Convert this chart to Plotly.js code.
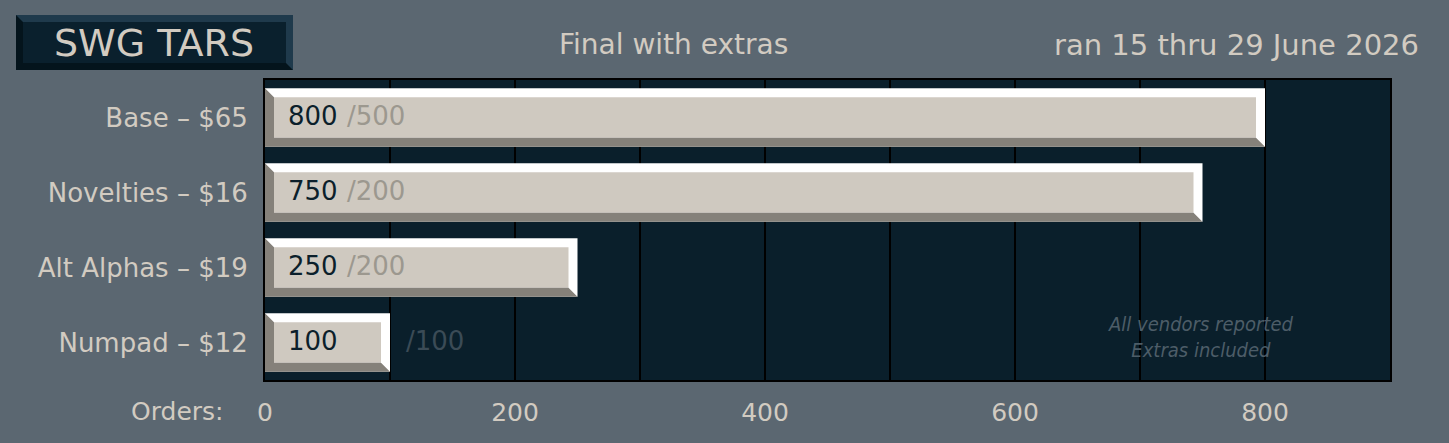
<!DOCTYPE html>
<html>
<head>
<meta charset="utf-8">
<script src="https://cdn.plot.ly/plotly-3.0.1.min.js"></script>
<style>
  html, body { margin: 0; padding: 0; background: #5b6771; }
  #chart { width: 1449px; height: 443px; }
</style>
</head>
<body>
<div id="chart"></div>
<script>
// data
const items = ["Base – $65", "Novelties – $16", "Alt Alphas – $19", "Numpad – $12"];
const orders = [800, 750, 250, 100];
const targets = [500, 200, 200, 100];
const xTicks = [0, 200, 400, 600, 800];

const cream = "#d2cbc1";
const faceCol = "#cfc9c0";
const shadeCol = "#85817a";
const fam = "DejaVu Sans";
const barW = 0.78;
const dx = 7.2;   // bevel in x data units (~9px)
const dy = 0.12;  // bevel in y data units (~9px)

// plot area in px, used to place the header bits in paper coords
const L = 265, R = 1390, T = 80, B = 380;
const px = v => (v - L) / (R - L);
const py = v => (B - v) / (B - T);

const idx = items.map((d, i) => i);

const traces = [
  {
    type: "bar",
    orientation: "h",
    x: orders,
    y: idx,
    width: barW,
    marker: { color: "#ffffff", line: { width: 0 } },
    hoverinfo: "none",
    showlegend: false
  },
  {
    type: "bar",
    orientation: "h",
    x: orders.map(v => v - 2 * dx),
    base: dx,
    y: idx,
    width: barW - 2 * dy,
    marker: { color: faceCol, line: { width: 0 } },
    hoverinfo: "none",
    showlegend: false
  }
];

const shapes = [];
// shaded left + bottom edge of each bar
orders.forEach(function(v, i) {
  const yt = i - barW / 2, yb = i + barW / 2;
  shapes.push({
    type: "path",
    xref: "x", yref: "y",
    path: `M0,${yt} L${dx},${yt + dy} L${dx},${yb - dy} L${v - dx},${yb - dy} L${v},${yb} L0,${yb} Z`,
    fillcolor: shadeCol,
    line: { width: 0 },
    layer: "above"
  });
});

// header box
const bx0 = 16, bx1 = 293, by0 = 15, by1 = 70, bv = 7;
shapes.push({
  type: "rect", xref: "paper", yref: "paper",
  x0: px(bx0), x1: px(bx1), y0: py(by1), y1: py(by0),
  fillcolor: "#1f3a4c", line: { width: 0 }
});
shapes.push({
  type: "path", xref: "paper", yref: "paper",
  path: `M${px(bx0)},${py(by0)} L${px(bx0 + bv)},${py(by0 + bv)} L${px(bx0 + bv)},${py(by1 - bv)} L${px(bx1 - bv)},${py(by1 - bv)} L${px(bx1)},${py(by1)} L${px(bx0)},${py(by1)} Z`,
  fillcolor: "#04141c", line: { width: 0 }
});
shapes.push({
  type: "rect", xref: "paper", yref: "paper",
  x0: px(bx0 + bv), x1: px(bx1 - bv), y0: py(by1 - bv), y1: py(by0 + bv),
  fillcolor: "#0a202d", line: { width: 0 }
});

const annotations = [];
orders.forEach(function(v, i) {
  annotations.push({
    x: 17, y: i - 0.02, xref: "x", yref: "y",
    text: String(v), showarrow: false, xanchor: "left", yanchor: "middle",
    font: { family: fam, size: 26, color: "#0b1f2b" }
  });
  const inside = v > 120;
  annotations.push({
    x: inside ? 64 : v + 11, y: i - 0.02, xref: "x", yref: "y",
    text: "/" + targets[i], showarrow: false, xanchor: "left", yanchor: "middle",
    font: { family: fam, size: 26, color: inside ? "#9c988f" : "#3b4b56" }
  });
});

annotations.push(
  {
    x: px(154), y: py(43), xref: "paper", yref: "paper", xanchor: "center", yanchor: "middle",
    text: "SWG TARS", showarrow: false,
    font: { family: fam, size: 38, color: cream }
  },
  {
    x: px(673), y: py(45), xref: "paper", yref: "paper", xanchor: "center", yanchor: "middle",
    text: "Final with extras", showarrow: false,
    font: { family: fam, size: 28, color: cream }
  },
  {
    x: px(1421), y: py(45), xref: "paper", yref: "paper", xanchor: "right", yanchor: "middle",
    text: "ran 15 thru 29 June 2026", showarrow: false,
    font: { family: fam, size: 29, color: cream }
  },
  {
    x: px(226), y: py(411), xref: "paper", yref: "paper", xanchor: "right", yanchor: "middle",
    text: "Orders:", showarrow: false,
    font: { family: fam, size: 25, color: cream }
  },
  {
    x: px(1200), y: py(337), xref: "paper", yref: "paper", xanchor: "center", yanchor: "middle",
    text: "<i>All vendors reported<br>Extras included</i>", showarrow: false,
    font: { family: "Liberation Sans Narrow, DejaVu Sans Condensed", size: 20, color: "#4d5d68" }
  }
);

const layout = {
  width: 1449,
  height: 443,
  margin: { l: L, r: 1449 - R, t: T, b: 443 - B, pad: 0 },
  paper_bgcolor: "#5b6771",
  plot_bgcolor: "#0a1f2b",
  barmode: "overlay",
  font: { family: fam, color: cream },
  xaxis: {
    range: [0, 900],
    tickvals: xTicks,
    ticktext: xTicks.map(String),
    showgrid: true,
    gridcolor: "#000000",
    gridwidth: 2,
    minor: { dtick: 100, showgrid: true, gridcolor: "#000000", gridwidth: 2 },
    zeroline: false,
    showline: true,
    linecolor: "#000000",
    linewidth: 2,
    mirror: true,
    ticks: "",
    ticklabelstandoff: 9,
    tickfont: { family: fam, size: 25, color: cream },
    fixedrange: true
  },
  yaxis: {
    range: [3.5, -0.5],
    tickvals: idx,
    ticktext: items,
    showgrid: false,
    zeroline: false,
    showline: true,
    linecolor: "#000000",
    linewidth: 2,
    mirror: true,
    ticks: "",
    ticklabelstandoff: 10,
    tickfont: { family: fam, size: 26, color: cream },
    fixedrange: true
  },
  shapes: shapes,
  annotations: annotations,
  showlegend: false
};

Plotly.newPlot("chart", traces, layout, { displayModeBar: false, staticPlot: true });
</script>
</body>
</html>
